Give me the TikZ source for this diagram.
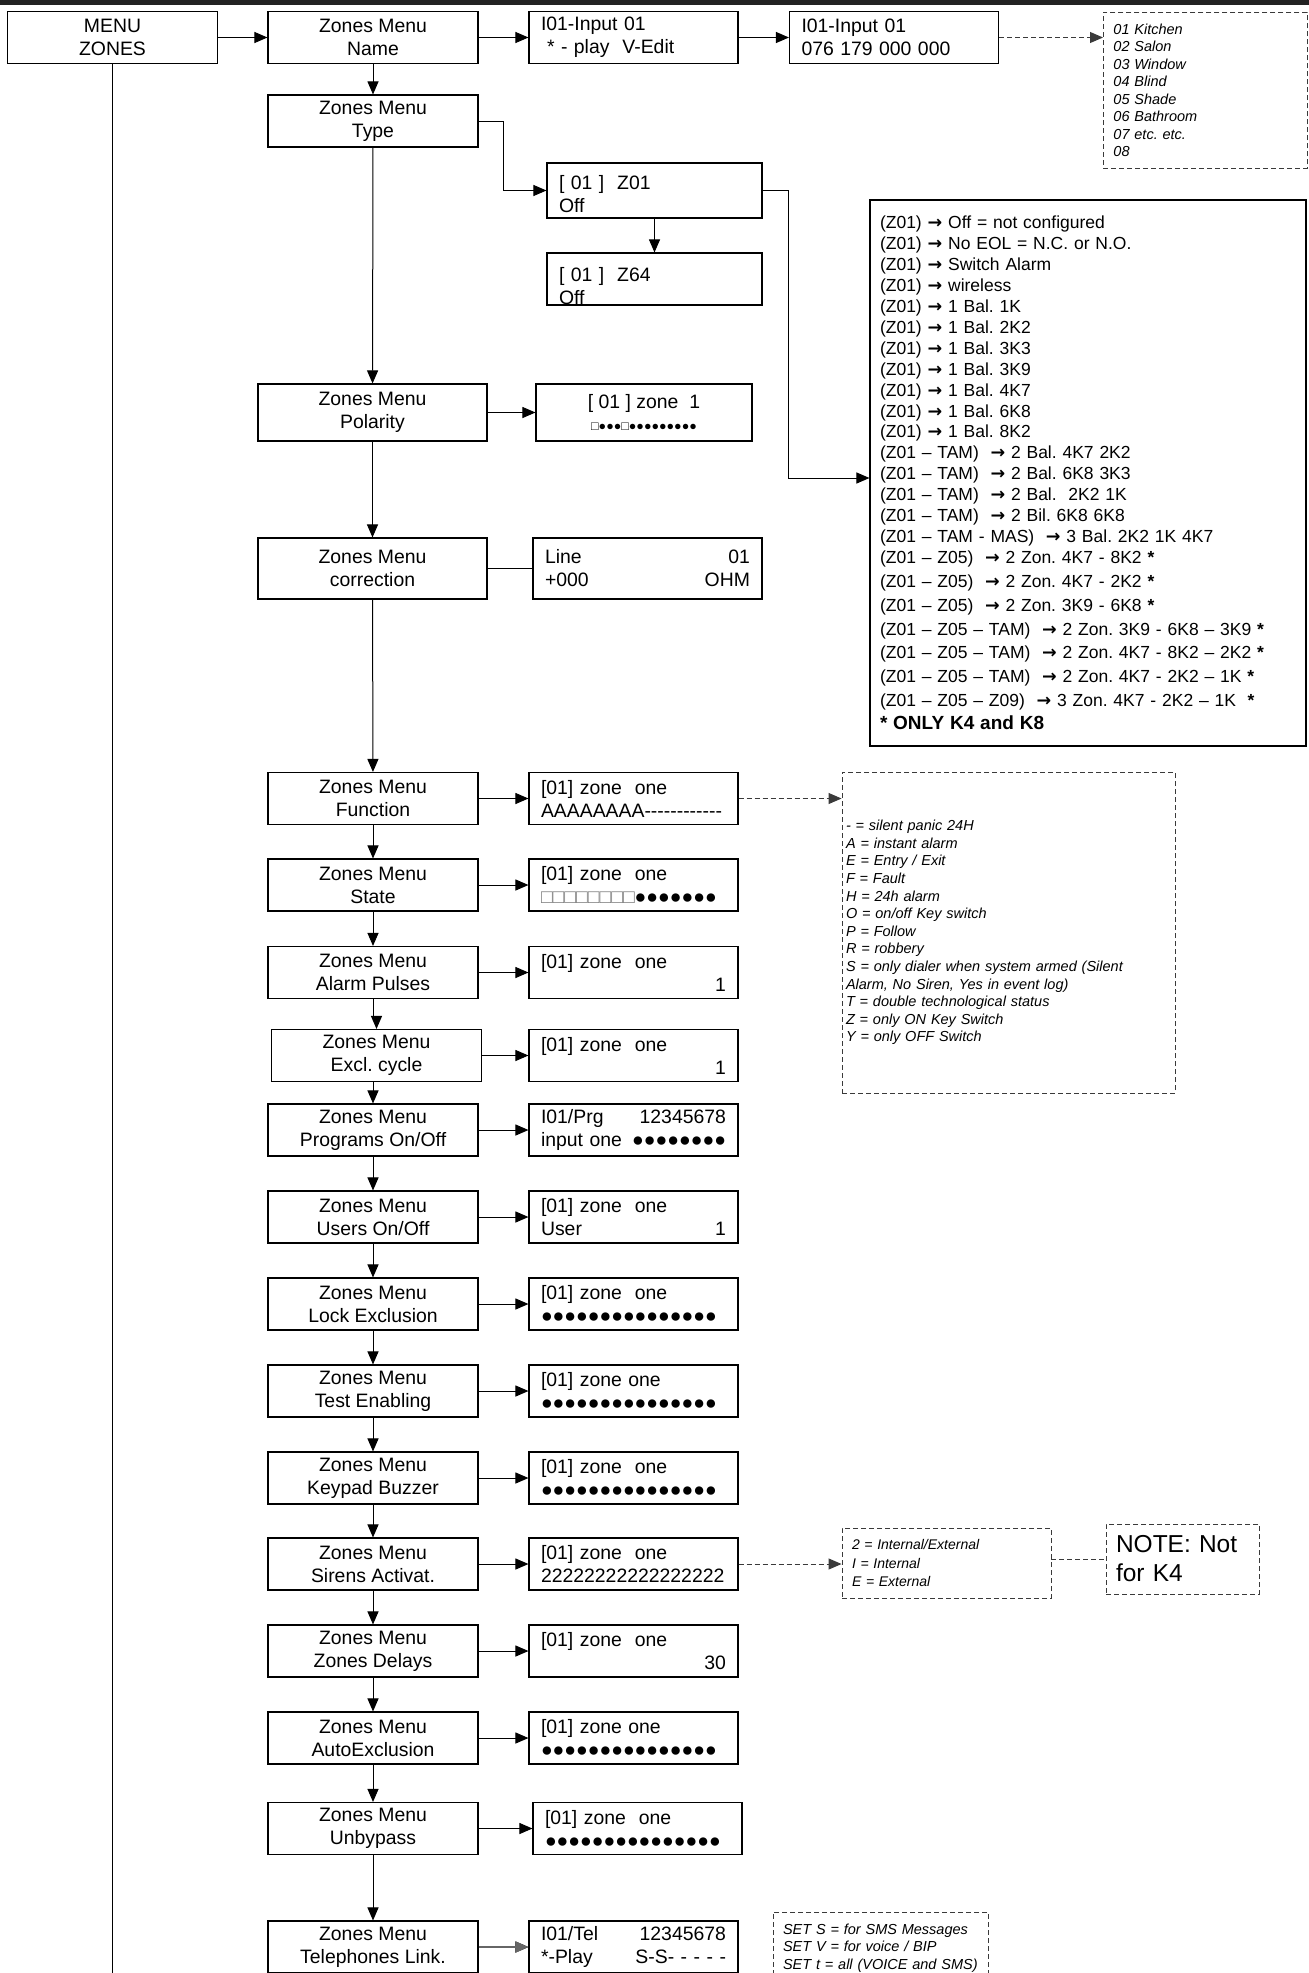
\documentclass[tikz,border=0pt]{standalone}
\usepackage{fontspec}
\setmainfont{Liberation Sans}
\newfontfamily\arrowfont{DejaVu Sans}
\usetikzlibrary{arrows.meta, positioning, calc}
\definecolor{barcol}{HTML}{222222}
\definecolor{dashcol}{HTML}{3A3A3A}
\definecolor{sqcol}{HTML}{777777}
\newcommand{\zarr}{{\arrowfont\bfseries →}}
\newcommand{\dotrow}[1]{\foreach \k in {1,...,#1}{●}}
\newcommand{\sqrow}[1]{{\color{sqcol}\foreach \k in {1,...,#1}{□}}}
\newcommand{\hyrow}[1]{\foreach \k in {1,...,#1}{-}}
\tikzset{
  menubox/.style={draw, line width=1.1pt, minimum width=210pt, minimum height=52pt,
    inner sep=0pt, align=center, font=\fontsize{19.4}{23}\selectfont},
  lcdbox/.style={draw, line width=1.1pt, minimum height=52pt, text width=185pt,
    inner xsep=12pt, inner ysep=0pt, align=left, font=\fontsize{19.4}{23}\selectfont},
  notebox/.style={draw=dashcol, line width=0.9pt, dash pattern=on 5pt off 3pt,
    inner xsep=10pt, inner ysep=0pt, align=left, font=\fontsize{14.5}{17.6}\selectfont\itshape},
  link/.style={line width=1pt, -{Triangle[length=13pt, width=11pt]}},
  dlink/.style={link, draw=dashcol, dash pattern=on 5pt off 3pt},
}
\begin{document}
\frenchspacing
\begin{tikzpicture}[x=1pt, y=-1pt]
\useasboundingbox (0,0) rectangle (1309,1973);
\fill[barcol] (0,0) rectangle (1309,4.5);
% Top row: name entry
\node[menubox] (menu) at (112.5,37.5) {MENU\\ZONES};
\node[menubox] (name) at (373,37.5) {Zones Menu\\Name};
\node[lcdbox] (input) at (633.5,37.5) {I01-Input 01\\\hspace{6pt}* - play\ \ V-Edit};
\node[lcdbox] (phone) at (894,37.5) {I01-Input 01\\076 179 000 000};
\node[notebox, text width=184pt, minimum height=156pt, font=\fontsize{14.5}{17.5}\selectfont\itshape,
  anchor=north west] (rooms) at (1103,12)
  {01 Kitchen\\02 Salon\\03 Window\\04 Blind\\05 Shade\\06 Bathroom\\07 etc. etc.\\08};
% Zone type
\node[menubox] (type) at (373,121) {Zones Menu\\Type};
\node[lcdbox, text width=191pt, minimum height=55pt] (zfirst) at (654.5,190.5) {\rule{0pt}{22pt}[ 01 ]\ \ Z01\\Off};
\node[lcdbox, text width=191pt] (zlast) at (654.5,279) {\rule{0pt}{28pt}[ 01 ]\ \ Z64\\Off};
\node[draw, line width=1.1pt, minimum width=436pt, minimum height=546pt, text width=416pt,
  inner xsep=10pt, inner ysep=0pt, align=left, font=\fontsize{17.5}{20.9}\selectfont] (types) at (1088,473)
  {(Z01) \zarr{} Off = not configured\\
   (Z01) \zarr{} No EOL = N.C. or N.O.\\
   (Z01) \zarr{} Switch Alarm\\
   (Z01) \zarr{} wireless\\
   (Z01) \zarr{} 1 Bal. 1K\\
   (Z01) \zarr{} 1 Bal. 2K2\\
   (Z01) \zarr{} 1 Bal. 3K3\\
   (Z01) \zarr{} 1 Bal. 3K9\\
   (Z01) \zarr{} 1 Bal. 4K7\\
   (Z01) \zarr{} 1 Bal. 6K8\\
   (Z01) \zarr{} 1 Bal. 8K2\\
   (Z01 – TAM)\ \ \zarr{} 2 Bal. 4K7 2K2\\
   (Z01 – TAM)\ \ \zarr{} 2 Bal. 6K8 3K3\\
   (Z01 – TAM)\ \ \zarr{} 2 Bal.\ \ 2K2 1K\\
   (Z01 – TAM)\ \ \zarr{} 2 Bil. 6K8 6K8\\
   (Z01 – TAM - MAS)\ \ \zarr{} 3 Bal. 2K2 1K 4K7\\
   (Z01 – Z05)\ \ \zarr{} 2 Zon. 4K7 - 8K2 \textbf{*}\\[3pt]
   (Z01 – Z05)\ \ \zarr{} 2 Zon. 4K7 - 2K2 \textbf{*}\\[3pt]
   (Z01 – Z05)\ \ \zarr{} 2 Zon. 3K9 - 6K8 \textbf{*}\\[3pt]
   (Z01 – Z05 – TAM)\ \ \zarr{} 2 Zon. 3K9 - 6K8 – 3K9 \textbf{*}\\[3pt]
   (Z01 – Z05 – TAM)\ \ \zarr{} 2 Zon. 4K7 - 8K2 – 2K2 \textbf{*}\\[3pt]
   (Z01 – Z05 – TAM)\ \ \zarr{} 2 Zon. 4K7 - 2K2 – 1K \textbf{*}\\[3pt]
   (Z01 – Z05 – Z09)\ \ \zarr{} 3 Zon. 4K7 - 2K2 – 1K\ \ \textbf{*}\\[2pt]
   {\fontsize{19}{20}\selectfont\bfseries * ONLY K4 and K8}};
\coordinate (typesin) at ($(types.west)+(0,5)$);
% Polarity and line correction
\node[menubox, minimum width=229pt, minimum height=57pt] (polarity) at (372.5,412.5) {Zones Menu\\Polarity};
\node[draw, line width=1.1pt, minimum width=216pt, minimum height=57pt, inner sep=0pt, align=center,
  font=\fontsize{19.4}{22}\selectfont] (poldisp) at (644,412.5)
  {[ 01 ] zone\ \ 1\\{\fontsize{12.5}{12}\selectfont□\dotrow{3}□\dotrow{9}}};
\node[menubox, minimum width=229pt, minimum height=61pt] (correction) at (372.5,568.5) {Zones Menu\\correction};
\node[lcdbox, text width=205pt, minimum height=61pt] (ohm) at (647.5,568.5) {Line\hfill 01\\+000\hfill OHM};
% Zone options column
\foreach \n/\x/\y/\lab/\dx/\txt in {
    function/373/798.5/Function/633.5/{[01] zone\ \ one\\AAAAAAAA\hyrow{12}},
    state/373/885/State/633.5/{[01] zone\ \ one\\\sqrow{8}\dotrow{7}},
    pulses/373/972.5/Alarm Pulses/633.5/{[01] zone\ \ one\\\mbox{}\hfill 1},
    excl/376.5/1055.5/Excl. cycle/633.5/{[01] zone\ \ one\\\mbox{}\hfill 1},
    programs/373/1130/{Programs On/Off}/633.5/{I01/Prg\hfill 12345678\\input one\hfill\dotrow{8}},
    users/373/1217/{Users On/Off}/633.5/{[01] zone\ \ one\\User\hfill 1},
    lock/373/1304/Lock Exclusion/633.5/{[01] zone\ \ one\\\dotrow{15}},
    test/373/1391/Test Enabling/633.5/{[01] zone one\\\dotrow{15}},
    keypad/373/1478/Keypad Buzzer/633.5/{[01] zone\ \ one\\\dotrow{15}},
    sirens/373/1564/Sirens Activat./633.5/{[01] zone\ \ one\\22222222222222222},
    delays/373/1651/Zones Delays/633.5/{[01] zone\ \ one\\\mbox{}\hfill 30},
    autoexcl/373/1738/AutoExclusion/633.5/{[01] zone one\\\dotrow{15}},
    unbypass/373/1828.5/Unbypass/637.5/{[01] zone\ \ one\\\dotrow{15}},
    tel/373/1947/Telephones Link./633.5/{I01/Tel\hfill 12345678\\{}*-Play\hfill S-S- - - - -}}{
  \node[menubox] (\n) at (\x,\y) {Zones Menu\\\lab};
  \node[lcdbox] (\n-lcd) at (\dx,\y) {\txt};
  \draw[link] (\n) -- (\n-lcd);
}
% Legends
\node[notebox, text width=325pt, inner xsep=4pt, minimum height=321pt, font=\fontsize{14.5}{17.6}\selectfont\itshape]
  (codes) at (1008.5,932.5)
  {- = silent panic 24H\\A = instant alarm\\E = Entry / Exit\\F = Fault\\H = 24h alarm\\
   O = on/off Key switch\\P = Follow\\R = robbery\\S = only dialer when system armed (Silent\\
   Alarm, No Siren, Yes in event log)\\T = double technological status\\Z = only ON Key Switch\\
   Y = only OFF Switch};
\node[notebox, text width=189pt, minimum height=70pt, font=\fontsize{14}{18.3}\selectfont\itshape]
  (sirenkey) at (946.5,1563) {2 = Internal/External\\I = Internal\\E = External};
\node[notebox, text width=133pt, minimum height=70pt, font=\fontsize{24.5}{29}\selectfont]
  (note) at (1182.5,1559) {NOTE: Not\\for K4};
\node[notebox, text width=195pt, minimum height=72pt] (setkey) at (880.5,1948)
  {SET S = for SMS Messages\\SET V = for voice / BIP\\SET t = all (VOICE and SMS)};
% Connectors
\coordinate (menuend) at (112.5,1980);
\draw[line width=1pt] (menu) -- (menuend);
\draw[link] (menu) -- (name);
\draw[link] (name) -- (input);
\draw[link] (input) -- (phone);
\draw[dlink] (phone.east) -- (phone.east -| rooms.west);
\draw[link] (name) -- (type);
\draw[link] (type.east) -- ++(25,0) |- (zfirst.west);
\draw[link] (zfirst) -- (zlast);
\draw[link] (zfirst.east) -- ++(26,0) |- (typesin);
\draw[link] (type) -- (polarity);
\draw[link] (polarity) -- (poldisp);
\draw[link] (polarity) -- (correction);
\draw[line width=1pt] (correction) -- (ohm);
\draw[link] (correction) -- (function);
\foreach \a/\b in {function/state, state/pulses, programs/users, users/lock, lock/test,
    test/keypad, keypad/sirens, sirens/delays, delays/autoexcl, autoexcl/unbypass, unbypass/tel}
  \draw[link] (\a) -- (\b);
\draw[link] (pulses.south) -- ++(0,17) -| (excl.north);
\draw[link] (programs.north |- excl.south) -- (programs.north);
\draw[link, line width=1.8pt, draw=black!60] (tel) -- (tel-lcd);
\draw[dlink] (function-lcd.east) -- (function-lcd.east -| codes.west);
\draw[dlink] (sirens-lcd.east) -- (sirens-lcd.east -| sirenkey.west);
\draw[draw=dashcol, line width=0.9pt, dash pattern=on 5pt off 3pt] (sirenkey.east |- note.west) -- (note.west);
\end{tikzpicture}
\end{document}
